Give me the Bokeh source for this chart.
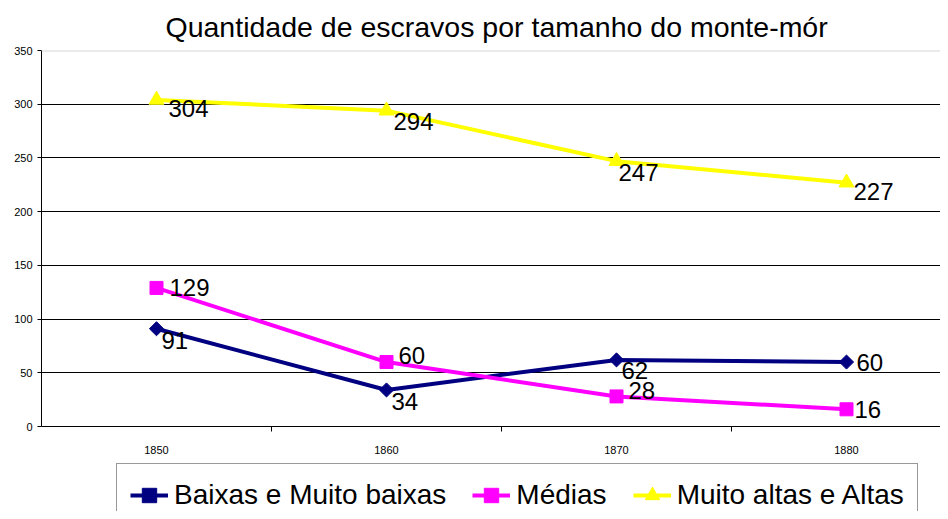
import math
from bokeh.plotting import figure
from bokeh.layouts import column
from bokeh.models import Range1d, FixedTicker, Legend, LegendItem, Span, ColumnDataSource
from bokeh.core.properties import value
from bokeh.embed import file_html
from bokeh.resources import INLINE

# ---- data ----
years = ["1850", "1860", "1870", "1880"]
baixas = [91, 34, 62, 60]
medias = [129, 60, 28, 16]
altas = [304, 294, 247, 227]
y_ticks = [0, 50, 100, 150, 200, 250, 300, 350]
series_names = ["Baixas e Muito baixas", "Médias", "Muito altas e Altas"]

# label offsets (style, screen px: dx right, dy down)
baixas_dx = [5, 5, 5, 10]
baixas_dy = [12, 12, 11, 0]
medias_dx = [13, 12, 12, 8]
medias_dy = [0, -7, -6, 0]
altas_dx = [12, 7, 2, 7]
altas_dy = [9, 11, 11, 9]

FONT = "Liberation Sans"
xs = list(range(len(years)))

W = 940
H1 = 460   # main chart
H2 = 51    # legend strip

p = figure(width=W, height=H1, output_backend="svg", toolbar_location=None,
           x_range=Range1d(-0.5, -0.5 + (W - 41) / 230.0),
           y_range=Range1d(y_ticks[0], y_ticks[-1]),
           min_border_left=41, min_border_right=0, min_border_top=50,
           min_border_bottom=H1 - 426, background_fill_color="white",
           border_fill_color="white")
p.outline_line_color = None

p.title.text = "Quantidade de escravos por tamanho do monte-mór"
p.title.text_font = FONT
p.title.text_font_size = "28.5px"
p.title.text_font_style = "normal"
p.title.text_color = "black"
p.title.align = "left"
p.title.offset = 124
p.title.standoff = 16

# axes
p.yaxis.ticker = FixedTicker(ticks=y_ticks)
p.yaxis.major_tick_out = 4
p.yaxis.major_tick_in = 0
p.yaxis.minor_tick_line_color = None
p.yaxis.major_label_text_font = FONT
p.yaxis.major_label_text_font_size = "11px"
p.yaxis.major_label_text_color = "black"
p.yaxis.major_label_standoff = 5
p.yaxis.axis_line_color = "black"
p.yaxis.major_tick_line_color = "black"

p.xaxis.ticker = FixedTicker(ticks=xs, minor_ticks=[i + 0.5 for i in xs])
p.xaxis.major_label_overrides = {i: y for i, y in zip(xs, years)}
p.xaxis.major_tick_out = 0
p.xaxis.major_tick_in = 0
p.xaxis.minor_tick_out = 5
p.xaxis.minor_tick_in = 0
p.xaxis.minor_tick_line_color = "black"
p.xaxis.major_label_text_font = FONT
p.xaxis.major_label_text_font_size = "11px"
p.xaxis.major_label_text_color = "black"
p.xaxis.major_label_standoff = 14
p.xaxis.axis_line_color = "black"

p.xgrid.visible = False
p.ygrid.ticker = FixedTicker(ticks=y_ticks[1:-1])
p.ygrid.grid_line_color = "black"
p.ygrid.grid_line_width = 1

p.add_layout(Span(location=y_ticks[-1], dimension="width", line_color="#d6d6d6", line_width=2))

# legend strip (separate figure so the box can run off the bottom edge);
# its ranges lie outside the data so its renderers only feed the legend
p2 = figure(width=W, height=H2, output_backend="svg", toolbar_location=None,
            x_range=Range1d(-10, -9), y_range=Range1d(-10, -9),
            x_axis_type=None, y_axis_type=None,
            min_border_left=0, min_border_right=0, min_border_top=0,
            min_border_bottom=0, background_fill_color="white",
            border_fill_color="white")
p2.outline_line_color = None
p2.xgrid.visible = False
p2.ygrid.visible = False

items = []
specs = [
    (baixas, "#000080", "square", 10, math.pi / 4, baixas_dx, baixas_dy),
    (medias, "#FF00FF", "square", 13, 0.0, medias_dx, medias_dy),
    (altas, "#FFFF00", "triangle", 15, 0.0, altas_dx, altas_dy),
]
for name, (vals, color, marker, size, ang, dx, dy) in zip(series_names, specs):
    src = ColumnDataSource(dict(x=xs, y=vals, lab=[str(v) for v in vals], dx=dx, dy=dy))
    p.line("x", "y", source=src, line_color=color, line_width=4)
    p.scatter("x", "y", source=src, marker=marker, size=size, angle=ang,
              fill_color=color, line_color=color)
    p.text("x", "y", text="lab", source=src, x_offset="dx", y_offset="dy",
           text_font=value(FONT), text_font_size="24px", text_color="black",
           text_align="left", text_baseline="middle")
    lr = p2.line("x", "y", source=src, line_color=color, line_width=4)
    mr = p2.scatter("x", "y", source=src, marker=marker, size=size - 1, angle=ang,
                    fill_color=color, line_color=color)
    items.append(LegendItem(label=name, renderers=[lr, mr]))

legend = Legend(items=items, orientation="horizontal", location=(75, -16),
                label_text_font=FONT, label_text_font_size="28px",
                label_text_color="black", glyph_width=38, glyph_height=36,
                label_standoff=6, spacing=26, padding=13, margin=0,
                border_line_color="#333333", border_line_width=1,
                background_fill_color="white", background_fill_alpha=1)
p2.add_layout(legend, "center")

layout = column(p, p2, spacing=0)
open("out.html", "w").write(file_html(layout, INLINE))
